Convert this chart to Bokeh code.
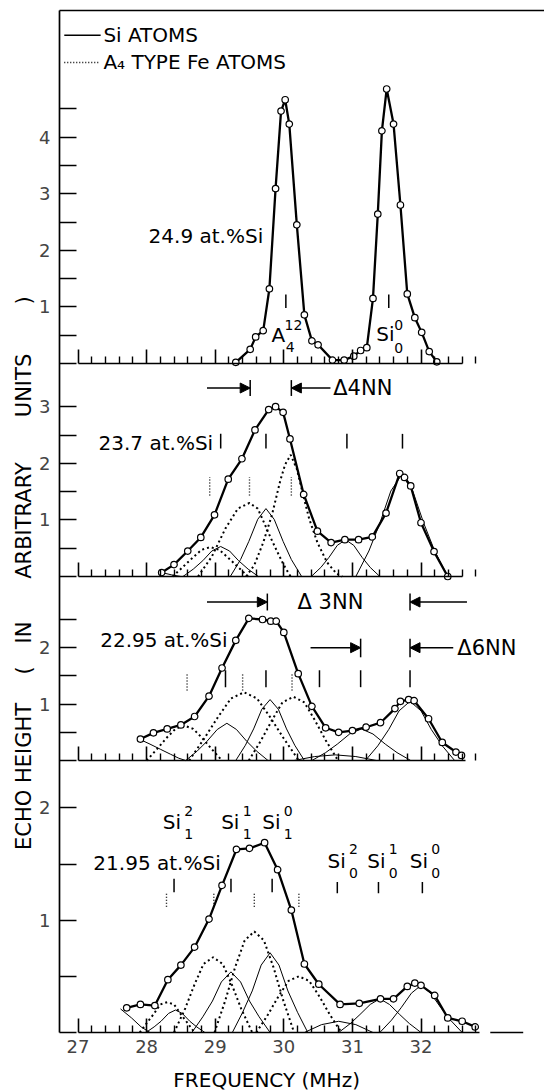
import math
from bokeh.plotting import figure
from bokeh.models import Range1d, LinearAxis, FixedTicker, Arrow, NormalHead
from bokeh.core.properties import value
from bokeh.embed import file_html
from bokeh.resources import INLINE

FONT = "DejaVu Sans"

# ---------------- data (frequency in MHz, echo height in arbitrary units) ----------------
FREQ_TICKS = [27, 28, 29, 30, 31, 32]

# Panel 1 : 24.9 at.% Si
P1_FREQ = [29.30, 29.51, 29.59, 29.70, 29.79, 29.88, 29.96, 30.02, 30.08, 30.19, 30.30, 30.41, 30.50,
           30.71, 30.88, 31.02, 31.12, 31.21, 31.30, 31.37, 31.43, 31.50, 31.60, 31.70, 31.80, 31.91,
           32.01, 32.12, 32.23]
P1_ECHO = [0.02, 0.25, 0.47, 0.58, 1.32, 3.09, 4.46, 4.66, 4.23, 2.45, 0.86, 0.40, 0.33,
           0.06, 0.06, 0.13, 0.23, 0.28, 1.15, 2.64, 4.11, 4.85, 4.23, 2.80, 1.23, 0.81,
           0.55, 0.21, 0.03]
P1_MARKS = [30.03, 31.53]

# Panel 2 : 23.7 at.% Si
P2_FREQ = [28.22, 28.40, 28.60, 28.79, 28.99, 29.19, 29.39, 29.58, 29.78, 29.88, 29.99, 30.09, 30.29,
           30.49, 30.69, 30.89, 31.09, 31.29, 31.49, 31.69, 31.76, 31.85, 32.00, 32.19, 32.39]
P2_ECHO = [0.07, 0.21, 0.45, 0.69, 1.09, 1.72, 2.08, 2.59, 2.95, 3.00, 2.90, 2.43, 1.45,
           0.80, 0.60, 0.65, 0.65, 0.70, 1.12, 1.82, 1.75, 1.60, 0.95, 0.44, 0.00]
P2_SI_COMP = [
    ([28.22, 28.36, 28.50], [0.07, 0.03, 0.0]),
    ([28.53, 28.68, 28.82, 28.95, 29.08, 29.21, 29.34, 29.48, 29.63], [0, 0.13, 0.28, 0.45, 0.53, 0.45, 0.28, 0.13, 0]),
    ([29.22, 29.37, 29.49, 29.62, 29.74, 29.86, 29.99, 30.11, 30.26], [0, 0.30, 0.62, 1.01, 1.20, 1.01, 0.62, 0.30, 0]),
    ([30.40, 30.54, 30.66, 30.78, 30.90, 31.02, 31.14, 31.26, 31.40], [0, 0.16, 0.34, 0.55, 0.65, 0.55, 0.34, 0.16, 0]),
    ([31.05, 31.24, 31.40, 31.56, 31.72, 31.88, 32.04, 32.20, 32.39], [0, 0.45, 0.94, 1.51, 1.80, 1.51, 0.94, 0.45, 0]),
]
P2_FE_COMP = [
    ([28.38, 28.53, 28.67, 28.80, 28.93, 29.06, 29.19, 29.33, 29.48], [0, 0.17, 0.33, 0.47, 0.52, 0.47, 0.33, 0.17, 0]),
    ([28.75, 28.95, 29.15, 29.33, 29.50, 29.62, 29.72, 29.81, 29.90, 30.00, 30.10], [0, 0.35, 0.85, 1.20, 1.30, 1.20, 0.93, 0.68, 0.45, 0.20, 0]),
    ([29.45, 29.57, 29.70, 29.83, 29.95, 30.02, 30.10, 30.19, 30.28, 30.37, 30.49, 30.63, 30.77, 30.85],
     [0, 0.20, 0.60, 1.10, 1.70, 1.98, 2.15, 1.90, 1.45, 1.02, 0.60, 0.25, 0.05, 0]),
]
P2_SI_MARKS = [29.08, 29.74, 30.92, 31.73]
P2_FE_MARKS = [28.92, 29.50, 30.11]

# Panel 3 : 22.95 at.% Si
P3_FREQ = [27.91, 28.10, 28.30, 28.50, 28.70, 28.91, 29.10, 29.30, 29.49, 29.69, 29.81, 29.89, 30.00, 30.21,
           30.41, 30.61, 30.80, 31.00, 31.20, 31.41, 31.62, 31.70, 31.82, 31.90, 32.11, 32.31, 32.51, 32.59]
P3_ECHO = [0.38, 0.49, 0.56, 0.63, 0.78, 1.14, 1.64, 2.13, 2.52, 2.50, 2.47, 2.47, 2.27, 1.54,
           0.96, 0.58, 0.50, 0.53, 0.59, 0.67, 0.92, 1.05, 1.08, 1.06, 0.74, 0.32, 0.15, 0.09]
P3_SI_COMP = [
    ([27.91, 28.05, 28.20, 28.35, 28.47, 28.57], [0.37, 0.29, 0.20, 0.11, 0.04, 0]),
    ([28.57, 28.74, 28.88, 29.03, 29.17, 29.31, 29.46, 29.60, 29.77], [0, 0.17, 0.34, 0.55, 0.66, 0.55, 0.34, 0.17, 0]),
    ([29.30, 29.44, 29.56, 29.68, 29.80, 29.92, 30.04, 30.16, 30.30], [0, 0.27, 0.56, 0.91, 1.08, 0.91, 0.56, 0.27, 0]),
    ([30.15, 30.45, 30.75, 31.05, 31.35], [0, 0.07, 0.10, 0.07, 0]),
    ([30.41, 30.61, 30.78, 30.96, 31.13, 31.30, 31.48, 31.65, 31.85], [0, 0.14, 0.29, 0.47, 0.56, 0.47, 0.29, 0.14, 0]),
    ([31.19, 31.37, 31.53, 31.68, 31.84, 32.00, 32.15, 32.31, 32.49], [0, 0.26, 0.55, 0.88, 1.05, 0.88, 0.55, 0.26, 0]),
]
P3_FE_COMP = [
    ([28.00, 28.15, 28.29, 28.42, 28.55, 28.68, 28.81, 28.95, 29.10], [0, 0.20, 0.40, 0.56, 0.62, 0.56, 0.40, 0.20, 0]),
    ([28.62, 28.84, 29.04, 29.23, 29.42, 29.61, 29.80, 30.00, 30.22], [0, 0.39, 0.77, 1.10, 1.21, 1.10, 0.77, 0.39, 0]),
    ([29.49, 29.67, 29.83, 29.98, 30.14, 30.30, 30.45, 30.61, 30.79], [0, 0.36, 0.72, 1.03, 1.13, 1.03, 0.72, 0.36, 0]),
]
P3_SI_MARKS = [29.15, 29.74, 30.52, 31.12, 31.84]
P3_FE_MARKS = [28.59, 29.40, 30.12]

# Panel 4 : 21.95 at.% Si
P4_FREQ = [27.71, 27.91, 28.12, 28.31, 28.50, 28.70, 28.91, 29.10, 29.31, 29.50, 29.72, 29.91, 30.11,
           30.30, 30.51, 30.82, 31.10, 31.41, 31.60, 31.80, 31.91, 32.00, 32.20, 32.39, 32.60, 32.79]
P4_ECHO = [0.22, 0.25, 0.24, 0.47, 0.60, 0.76, 1.01, 1.31, 1.63, 1.64, 1.69, 1.45, 1.09,
           0.61, 0.43, 0.25, 0.26, 0.30, 0.30, 0.41, 0.44, 0.42, 0.33, 0.13, 0.10, 0.05]
P4_SI_COMP = [
    ([27.62, 27.78, 27.92, 28.05], [0.21, 0.13, 0.05, 0]),
    ([27.99, 28.11, 28.21, 28.32, 28.42, 28.52, 28.63, 28.73, 28.85], [0, 0.05, 0.10, 0.17, 0.20, 0.17, 0.10, 0.05, 0]),
    ([28.66, 28.82, 28.96, 29.09, 29.23, 29.37, 29.50, 29.64, 29.80], [0, 0.14, 0.28, 0.45, 0.54, 0.45, 0.28, 0.14, 0]),
    ([29.25, 29.40, 29.54, 29.67, 29.80, 29.93, 30.06, 30.20, 30.35], [0, 0.18, 0.37, 0.60, 0.71, 0.60, 0.37, 0.18, 0]),
    ([30.30, 30.55, 30.80, 31.05, 31.30], [0, 0.07, 0.10, 0.07, 0]),
    ([30.80, 30.97, 31.11, 31.26, 31.40, 31.54, 31.69, 31.83, 32.00], [0, 0.08, 0.16, 0.25, 0.30, 0.25, 0.16, 0.08, 0]),
    ([31.40, 31.57, 31.71, 31.86, 32.00, 32.14, 32.29, 32.43, 32.60], [0, 0.11, 0.22, 0.35, 0.42, 0.35, 0.22, 0.11, 0]),
]
P4_FE_COMP = [
    ([27.90, 28.01, 28.11, 28.20, 28.30, 28.40, 28.49, 28.59, 28.70], [0, 0.09, 0.17, 0.25, 0.27, 0.25, 0.17, 0.09, 0]),
    ([28.40, 28.56, 28.70, 28.83, 28.97, 29.11, 29.24, 29.38, 29.54], [0, 0.21, 0.43, 0.61, 0.67, 0.61, 0.43, 0.21, 0]),
    ([28.99, 29.15, 29.29, 29.43, 29.57, 29.71, 29.85, 29.99, 30.15], [0, 0.29, 0.58, 0.82, 0.90, 0.82, 0.58, 0.29, 0]),
    ([29.60, 29.77, 29.92, 30.07, 30.22, 30.37, 30.52, 30.67, 30.84], [0, 0.16, 0.32, 0.46, 0.50, 0.46, 0.32, 0.16, 0]),
]
P4_SI_MARKS_1 = [28.40, 29.23, 29.83]
P4_SI_MARKS_0 = [30.78, 31.38, 32.02]
P4_FE_MARKS = [28.29, 28.98, 29.57, 30.22]

# ---------------- layout (frame covers the whole canvas) ----------------
W, H = 544, 1092
PX_PER_MHZ = 68.6
X27_PX = 77.5
X_START = 27 - X27_PX / PX_PER_MHZ
X_END = 27 + (W - X27_PX) / PX_PER_MHZ
X_AXIS = 27 - (X27_PX - 59) / PX_PER_MHZ      # position of the vertical axis line
TOP_PX = 10


def panel_range(base_px, px_per_unit):
    return Range1d(start=(base_px - H) / px_per_unit, end=base_px / px_per_unit)


p = figure(width=W, height=H, x_range=Range1d(X_START, X_END), y_range=panel_range(1032, 112.3),
           output_backend="svg", toolbar_location=None, x_axis_location=None, y_axis_location=None,
           min_border=0)
p.extra_y_ranges = {"p1": panel_range(363, 56.6), "p2": panel_range(576, 56.6), "p3": panel_range(760, 56.4)}
p.xgrid.visible = False
p.ygrid.visible = False
p.outline_line_color = None
p.background_fill_color = "white"
p.border_fill_color = "white"
TOP_VAL = (1032 - TOP_PX) / 112.3

minor = [27 + 0.2 * i for i in range(30) if i % 5]


def x_axis(rng, xend, labels):
    ax = LinearAxis(y_range_name=rng, fixed_location=0,
                    ticker=FixedTicker(ticks=FREQ_TICKS, minor_ticks=minor))
    ax.bounds = (27, xend)
    ax.axis_line_width = 1.7
    ax.major_tick_line_width = 1.6
    ax.minor_tick_line_width = 1.4
    ax.major_tick_in = 14
    ax.major_tick_out = 0
    ax.minor_tick_in = 7
    ax.minor_tick_out = 0
    ax.major_label_text_font = FONT
    ax.major_label_text_font_size = "18px"
    ax.major_label_standoff = 7
    if not labels:
        ax.major_label_text_color = None
    p.add_layout(ax, "below")


def y_axis(rng, ticks, line, bounds=None):
    ax = LinearAxis(y_range_name=rng, fixed_location=X_AXIS, ticker=FixedTicker(ticks=ticks))
    ax.major_label_overrides = {t: (str(int(t)) if t == int(t) and t > 0 else "") for t in ticks}
    ax.major_tick_in = 17
    ax.major_tick_out = 0
    ax.minor_tick_in = 0
    ax.minor_tick_out = 0
    ax.major_tick_line_width = 1.6
    ax.major_label_text_font = FONT
    ax.major_label_text_font_size = "18px"
    ax.major_label_standoff = 9
    if line:
        ax.axis_line_width = 1.7
        ax.bounds = bounds
    else:
        ax.axis_line_color = None
    p.add_layout(ax, "left")


y_axis("default", [0, 0.5, 1, 1.5, 2], True, (0, TOP_VAL))
y_axis("p1", [0, 0.5, 1, 1.5, 2, 2.5, 3, 3.5, 4, 4.5], False)
y_axis("p2", [0, 0.5, 1, 1.5, 2, 2.5, 3], False)
y_axis("p3", [0, 0.5, 1, 1.5, 2, 2.5], False)
x_axis("p1", 32.6, False)
x_axis("p2", 32.6, False)
x_axis("p3", 32.65, False)
x_axis("default", 32.85, True)

top = LinearAxis(fixed_location=TOP_VAL, ticker=FixedTicker(ticks=[]), major_tick_out=0, minor_tick_out=0,
                 major_tick_in=0, minor_tick_in=0, major_label_standoff=0, axis_line_width=1.7,
                 bounds=(X_AXIS, X_END))
p.add_layout(top, "above")

# short stray rule at the lower right of the original sheet
p.line([33.01, 33.49], [0, 0], line_color="black", line_width=1.6)


def draw_panel(rng, freq, echo, si_comps, fe_comps):
    for xs, ys in si_comps:
        p.line(xs, ys, y_range_name=rng, line_color="black", line_width=1.0)
    for xs, ys in fe_comps:
        p.line(xs, ys, y_range_name=rng, line_color="black", line_width=2.0, line_dash="2 3")
    p.line(freq, echo, y_range_name=rng, line_color="black", line_width=2.3)
    p.scatter(freq, echo, y_range_name=rng, marker="circle", size=6.5, fill_color="white",
              line_color="black", line_width=1.2)


def marks(rng, xs, y0, y1, dashed=False):
    p.segment(x0=xs, y0=[y0] * len(xs), x1=xs, y1=[y1] * len(xs), y_range_name=rng,
              line_color="black", line_width=1.5 if not dashed else 1.4,
              line_dash="1 2" if dashed else "solid")


def txt(rng, x, y, s, size="19px", align="left", angle=0.0):
    p.text(x=[x], y=[y], text=[s], y_range_name=rng, text_font=value(FONT), text_font_size=size,
           text_align=align, text_baseline="middle", text_color="black", angle=angle)


def arrow(rng, x0, x1, y):
    p.add_layout(Arrow(end=NormalHead(size=10, fill_color="black", line_color="black", line_width=1),
                       x_start=x0, y_start=y, x_end=x1, y_end=y, y_range_name=rng,
                       line_color="black", line_width=1.4))


# panel 1
draw_panel("p1", P1_FREQ, P1_ECHO, [], [])
marks("p1", P1_MARKS, 0.98, 1.22)
p.line([26.80, 27.33], [5.80, 5.80], y_range_name="p1", line_color="black", line_width=1.6)
p.line([26.80, 27.30], [5.32, 5.32], y_range_name="p1", line_color="black", line_width=1.5, line_dash="1 2")
txt("p1", 27.37, 5.80, "Si ATOMS", "20px")
txt("p1", 27.37, 5.32, "A₄ TYPE Fe ATOMS", "20px")
txt("p1", 29.70, 2.25, "24.9 at.%Si", "20px", "right")
txt("p1", 29.92, 0.50, "A", "20px", "center")
txt("p1", 30.01, 0.68, "12", "14px")
txt("p1", 30.03, 0.30, "4", "14px")
txt("p1", 31.48, 0.52, "Si", "20px", "center")
txt("p1", 31.61, 0.68, "0", "14px")
txt("p1", 31.61, 0.28, "0", "14px")

# panel 2
draw_panel("p2", P2_FREQ, P2_ECHO, P2_SI_COMP, P2_FE_COMP)
marks("p2", P2_SI_MARKS, 2.26, 2.52)
marks("p2", P2_FE_MARKS, 1.43, 1.76, dashed=True)
txt("p2", 28.97, 2.36, "23.7 at.%Si", "20px", "right")
arrow("p2", 28.88, 29.51, 3.33)
arrow("p2", 30.68, 30.11, 3.33)
marks("p2", [29.51, 30.11], 3.19, 3.47)
txt("p2", 30.72, 3.33, "Δ4NN", "21px")

# panel 3
draw_panel("p3", P3_FREQ, P3_ECHO, P3_SI_COMP, P3_FE_COMP)
marks("p3", P3_SI_MARKS, 1.30, 1.60)
marks("p3", P3_FE_MARKS, 1.24, 1.54, dashed=True)
txt("p3", 29.18, 2.13, "22.95 at.%Si", "20px", "right")
arrow("p3", 28.88, 29.76, 2.81)
arrow("p3", 32.67, 31.84, 2.81)
marks("p3", [29.76, 31.84], 2.66, 2.96)
txt("p3", 30.68, 2.81, "Δ 3NN", "21px", "center")
arrow("p3", 30.39, 31.12, 2.00)
arrow("p3", 32.47, 31.84, 2.00)
marks("p3", [31.12, 31.84], 1.83, 2.16)
txt("p3", 32.53, 2.00, "Δ6NN", "21px")

# panel 4
draw_panel("default", P4_FREQ, P4_ECHO, P4_SI_COMP, P4_FE_COMP)
marks("default", P4_SI_MARKS_1, 1.25, 1.37)
marks("default", P4_SI_MARKS_0, 1.24, 1.34)
marks("default", P4_FE_MARKS, 1.12, 1.25, dashed=True)
txt("default", 29.08, 1.51, "21.95 at.%Si", "20px", "right")
for sx, sup in [(28.37, "2"), (29.22, "1"), (29.82, "0")]:
    txt("default", sx, 1.87, "Si", "20px", "center")
    txt("default", sx + 0.18, 1.97, sup, "14px")
    txt("default", sx + 0.18, 1.77, "1", "14px")
for sx, sup in [(30.77, "2"), (31.35, "1"), (31.97, "0")]:
    txt("default", sx, 1.53, "Si", "20px", "center")
    txt("default", sx + 0.18, 1.63, sup, "14px")
    txt("default", sx + 0.18, 1.42, "0", "14px")

# axis titles (the vertical one is letter-spaced in the original, so its words are placed one by one)
YLAB_X = 27 + (23 - X27_PX) / PX_PER_MHZ
for word, center_px in [("ECHO HEIGHT", 776), ("(", 670), ("IN", 632), ("ARBITRARY", 520),
                        ("UNITS", 385), (")", 300)]:
    txt("default", YLAB_X, (1032 - center_px) / 112.3, word, "21px", "center", math.pi / 2)
txt("default", 29.75, (1032 - 1079) / 112.3, "FREQUENCY (MHz)", "20px", "center")

open("out.html", "w").write(file_html(p, INLINE))
